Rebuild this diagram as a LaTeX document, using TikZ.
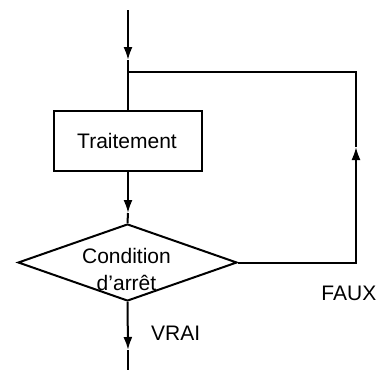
\documentclass[tikz,border=0pt]{standalone}
\usepackage{fontspec}
\setmainfont{Liberation Sans}
\usetikzlibrary{shapes.geometric,arrows.meta}
\tikzset{
  ln/.style={line width=2pt},
  arr/.style={ln,-{Latex[length=13pt,width=9pt]}},
  txt/.style={font=\fontsize{21}{27}\selectfont, inner sep=0pt},
  procbox/.style={ln, draw, rectangle, minimum width=148pt, minimum height=60pt, inner sep=0pt},
  decis/.style={ln, draw, diamond, minimum width=219pt, minimum height=77pt, inner sep=0pt}
}
\begin{document}
\begin{tikzpicture}[x=1pt,y=-1pt]
\useasboundingbox (0,0) rectangle (378,372);
\node[procbox] (box) at (128,141) {};
\node[txt, anchor=base] (boxtxt) at (127,148) {Traitement};
\node[decis] (cond) at (127.5,262.5) {};
\node[txt, align=center] (condtxt) at (126.5,269) {Condition\\d’arrêt};
\coordinate (top) at (128,10);
\coordinate (t1) at (128,60);
\coordinate (j) at (128,72);
\coordinate (tr) at (356,72);
\coordinate (br) at (356,262.5);
\coordinate (r1) at (356,147);
\coordinate (m1) at (128,213);
\coordinate (b1) at (128,350);
\coordinate (bot) at (128,370);
\draw[arr] (top) -- (t1);
\draw[ln] (t1) -- (box.north);
\draw[arr] (cond.east) -- (br) -- (r1);
\draw[ln] (r1) -- (tr) -- (j);
\draw[arr] (box.south) -- (m1);
\draw[ln] (m1) -- (cond.north);
\draw[arr] (cond.south) -- (b1);
\draw[ln] (b1) -- (bot);
\node[txt, anchor=base west] (vrai) at (151,340) {VRAI};
\node[txt, anchor=base east] (faux) at (376.5,300) {FAUX};
\end{tikzpicture}
\end{document}
